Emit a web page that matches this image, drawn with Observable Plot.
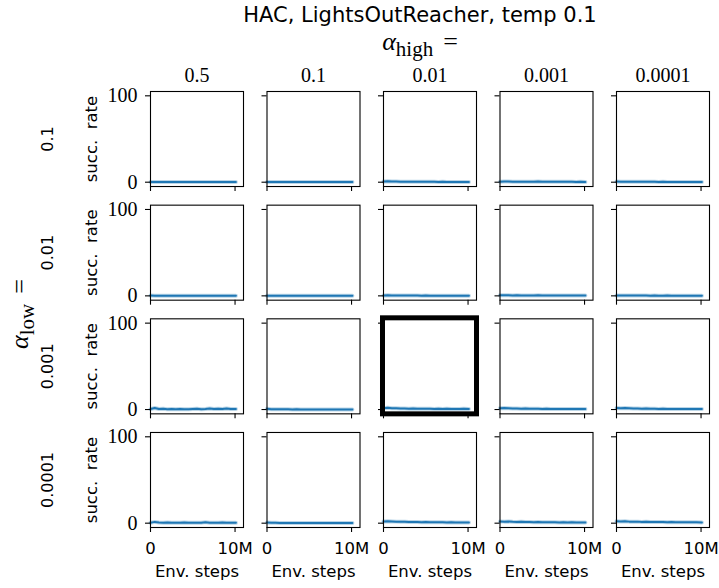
<!DOCTYPE html>
<html>
<head>
<meta charset="utf-8">
<script src="https://cdn.jsdelivr.net/npm/d3@7"></script>
<script src="https://cdn.jsdelivr.net/npm/@observablehq/plot@0.6"></script>
<style>
  body { margin: 0; background: #fff; }
  #wrap { position: relative; width: 719px; height: 588px; overflow: hidden; background: #fff; }
  #header { position: relative; height: 58px; }
  .title { position: absolute; left: 0; width: 840px; text-align: center; top: 5px;
           font-family: "DejaVu Sans", sans-serif; font-size: 21px; line-height: 21px; color: #000; white-space: nowrap; }
  .math { font-family: "Liberation Serif", serif; color: #000; white-space: nowrap; }
  .ahigh { position: absolute; left: 0; width: 840px; text-align: center; top: 29px; font-size: 26px; line-height: 26px; }
  .alow { position: absolute; left: 20px; top: 314px; font-size: 26px; line-height: 26px;
          transform: translate(-50%, -50%) rotate(-90deg); }
  .math i { font-style: italic; }
  .math sub { font-size: 21px; vertical-align: baseline; position: relative; top: 6px; }
  .math .eq { margin-left: 10px; }
  #chart svg { display: block; }
</style>
</head>
<body>
<div id="wrap">
  <div id="header">
    <div class="title">HAC, LightsOutReacher, temp 0.1</div>
    <div class="math ahigh"><i>α</i><sub>high</sub><span class="eq">=</span></div>
  </div>
  <div id="chart"></div>
  <div class="math alow"><i>α</i><sub>low</sub><span class="eq">=</span></div>
</div>
<script>
// Column facets (alpha_high) and row facets (alpha_low)
const alphaHigh = ["0.5", "0.1", "0.01", "0.001", "0.0001"];
const alphaLow = ["0.1", "0.01", "0.001", "0.0001"];

// Environment steps, in millions
const stepsM = [0, 0.5, 1, 1.5, 2, 2.5, 3, 3.5, 4, 4.5, 5, 5.5, 6, 6.5, 7, 7.5, 8, 8.5, 9, 9.5, 10.1];

// Tick values
const yTicks = [0, 100];
const xTicks = [0, 10e6];
const xTickLabels = ["0", "10M"];

// Success rate (%) per row (alpha_low); each row holds one series per alpha_high column
const rateLow0_1 = [
  [0.2, 0.1, 0.1, 0.1, 0.1, 0.1, 0.1, 0.1, 0.1, 0.1, 0.1, 0.1, 0.1, 0.1, 0.1, 0.1, 0.1, 0.1, 0.1, 0.1, 0.1],
  [0.2, 0.1, 0.1, 0.1, 0.1, 0.1, 0.1, 0.1, 0.1, 0.1, 0.1, 0.1, 0.1, 0.1, 0.1, 0.1, 0.1, 0.1, 0.1, 0.1, 0.1],
  [0.8, 1.0, 0.9, 0.7, 0.6, 0.6, 0.5, 0.5, 0.6, 0.4, 0.5, 0.4, 0.4, 0.3, 0.4, 0.3, 0.3, 0.3, 0.2, 0.3, 0.2],
  [0.6, 0.8, 0.7, 0.6, 0.6, 0.5, 0.6, 0.5, 0.6, 0.7, 0.5, 0.5, 0.4, 0.5, 0.4, 0.5, 0.4, 0.4, 0.3, 0.4, 0.3],
  [0.7, 0.6, 0.5, 0.5, 0.5, 0.4, 0.4, 0.5, 0.4, 0.4, 0.3, 0.4, 0.3, 0.3, 0.3, 0.3, 0.2, 0.3, 0.2, 0.2, 0.2]
];
const rateLow0_01 = [
  [0.3, 0.2, 0.2, 0.1, 0.2, 0.1, 0.1, 0.1, 0.2, 0.1, 0.1, 0.1, 0.1, 0.1, 0.1, 0.1, 0.1, 0.1, 0.1, 0.1, 0.1],
  [0.2, 0.1, 0.1, 0.1, 0.1, 0.1, 0.1, 0.1, 0.1, 0.1, 0.1, 0.1, 0.1, 0.1, 0.1, 0.1, 0.1, 0.1, 0.1, 0.1, 0.1],
  [0.5, 0.6, 0.4, 0.4, 0.3, 0.4, 0.3, 0.3, 0.3, 0.2, 0.3, 0.2, 0.2, 0.2, 0.2, 0.2, 0.2, 0.1, 0.2, 0.1, 0.1],
  [0.6, 0.7, 0.6, 0.5, 0.6, 0.5, 0.5, 0.4, 0.5, 0.6, 0.4, 0.5, 0.4, 0.4, 0.5, 0.3, 0.4, 0.3, 0.4, 0.3, 0.3],
  [0.4, 0.5, 0.4, 0.3, 0.4, 0.3, 0.3, 0.3, 0.2, 0.3, 0.2, 0.2, 0.3, 0.2, 0.2, 0.2, 0.2, 0.2, 0.1, 0.2, 0.1]
];
const rateLow0_001 = [
  [0.5, 1.8, 0.6, 1.0, 0.4, 0.6, 0.3, 0.5, 0.4, 0.3, 0.5, 0.8, 0.4, 0.7, 1.2, 0.6, 0.9, 0.5, 1.1, 0.7, 0.6],
  [0.9, 0.4, 0.3, 0.2, 0.2, 0.2, 0.1, 0.2, 0.1, 0.1, 0.1, 0.1, 0.1, 0.1, 0.1, 0.1, 0.1, 0.1, 0.1, 0.1, 0.1],
  [1.5, 2.0, 1.6, 1.4, 1.2, 1.3, 1.0, 1.1, 0.9, 1.0, 0.8, 0.9, 0.7, 0.8, 0.7, 0.8, 0.6, 0.7, 0.6, 0.8, 0.7],
  [1.5, 1.8, 1.5, 1.3, 1.2, 1.0, 1.1, 0.9, 0.8, 0.9, 0.7, 0.8, 0.6, 0.7, 0.6, 0.7, 0.5, 0.6, 0.5, 0.6, 0.5],
  [1.8, 1.6, 1.7, 1.4, 1.2, 1.3, 1.0, 1.1, 0.8, 0.9, 0.7, 0.8, 0.7, 0.6, 0.7, 0.5, 0.6, 0.5, 0.6, 0.5, 0.5]
];
const rateLow0_0001 = [
  [0.6, 1.5, 0.8, 0.6, 0.7, 0.5, 0.6, 0.4, 0.8, 0.5, 0.6, 0.5, 0.4, 1.2, 0.5, 0.6, 0.4, 0.7, 0.5, 0.6, 0.4],
  [0.7, 0.5, 0.4, 0.3, 0.3, 0.2, 0.3, 0.2, 0.2, 0.2, 0.2, 0.1, 0.2, 0.1, 0.1, 0.1, 0.1, 0.1, 0.1, 0.1, 0.1],
  [1.9, 2.3, 2.0, 1.8, 1.6, 1.7, 1.4, 1.5, 1.3, 1.2, 1.3, 1.1, 1.2, 1.0, 1.1, 0.9, 1.0, 0.9, 0.8, 0.9, 0.8],
  [2.0, 1.8, 1.9, 1.6, 1.5, 1.6, 1.3, 1.4, 1.2, 1.3, 1.1, 1.2, 1.0, 1.1, 0.9, 1.0, 0.9, 1.0, 0.8, 0.9, 0.8],
  [2.2, 2.0, 2.1, 1.8, 1.7, 1.8, 1.5, 1.6, 1.4, 1.5, 1.3, 1.4, 1.2, 1.3, 1.1, 1.2, 1.0, 1.1, 1.0, 1.0, 0.9]
];

// Highlighted panel
const highlight = [{high: "0.01", low: "0.001"}];

const rows = [rateLow0_1, rateLow0_01, rateLow0_001, rateLow0_0001];
const data = [];
alphaLow.forEach((lo, i) => alphaHigh.forEach((hi, j) => stepsM.forEach((s, k) => {
  data.push({low: lo, high: hi, step: s * 1e6, rate: rows[i][j][k]});
})));

const serif = "Liberation Serif";
const sans = "DejaVu Sans";

const chart = Plot.plot({
  width: 719,
  height: 530,
  marginLeft: 150,
  marginRight: 10,
  marginTop: 33,
  marginBottom: 61,
  style: {fontFamily: sans, fontSize: "16.5px", background: "#fff", color: "#000", overflow: "visible"},
  fx: {domain: alphaHigh, paddingInner: 0.2017, paddingOuter: 0, round: false, axis: null},
  fy: {domain: alphaLow, paddingInner: 0.164, paddingOuter: 0, round: false, axis: null},
  x: {domain: [0, 11e6]},
  y: {domain: [-5, 105]},
  marks: [
    Plot.lineY(data, {x: "step", y: "rate", fx: "high", fy: "low", stroke: "#1f77b4", strokeWidth: 4, strokeOpacity: 0.3}),
    Plot.lineY(data, {x: "step", y: "rate", fx: "high", fy: "low", stroke: "#1f77b4", strokeWidth: 2}),
    Plot.frame({stroke: "#000", strokeWidth: 1.1}),
    Plot.axisY({ticks: yTicks, tickSize: 5, tickFormat: () => "", label: null, facetAnchor: null, strokeWidth: 1.1}),
    Plot.axisY({ticks: yTicks, tickSize: 0, tickPadding: 13, label: null, fontFamily: serif, fontSize: 20}),
    Plot.axisX({ticks: xTicks, tickSize: 5, tickFormat: () => "", label: null, facetAnchor: null, strokeWidth: 1.1}),
    Plot.axisX({ticks: xTicks, tickSize: 0, tickPadding: 15, label: null, fontSize: 16.5,
                tickFormat: d => xTickLabels[xTicks.indexOf(d)]}),
    Plot.text(alphaHigh, {fx: d => d, fy: () => alphaLow[0], text: d => d, frameAnchor: "top",
                          lineAnchor: "middle", textAnchor: "middle", dy: -16, fontFamily: serif, fontSize: 20}),
    Plot.text(alphaLow, {fx: () => alphaHigh[0], fy: d => d, text: d => d, frameAnchor: "left",
                         lineAnchor: "middle", textAnchor: "middle", dx: -103, rotate: -90, fontSize: 16}),
    Plot.text(alphaLow, {fx: () => alphaHigh[0], fy: d => d, text: () => "succ.  rate", frameAnchor: "left",
                         lineAnchor: "middle", textAnchor: "middle", dx: -59, rotate: -90, fontSize: 16.5}),
    Plot.text(alphaHigh, {fx: d => d, fy: () => alphaLow[alphaLow.length - 1], text: () => "Env. steps",
                          frameAnchor: "bottom", lineAnchor: "middle", textAnchor: "middle", dy: 44.7, fontSize: 16.5}),
    Plot.rect(highlight, {fx: "high", fy: "low", stroke: "#000", strokeWidth: 5, fill: "none", inset: -0.5})
  ]
});
document.getElementById("chart").append(chart);
</script>
</body>
</html>
